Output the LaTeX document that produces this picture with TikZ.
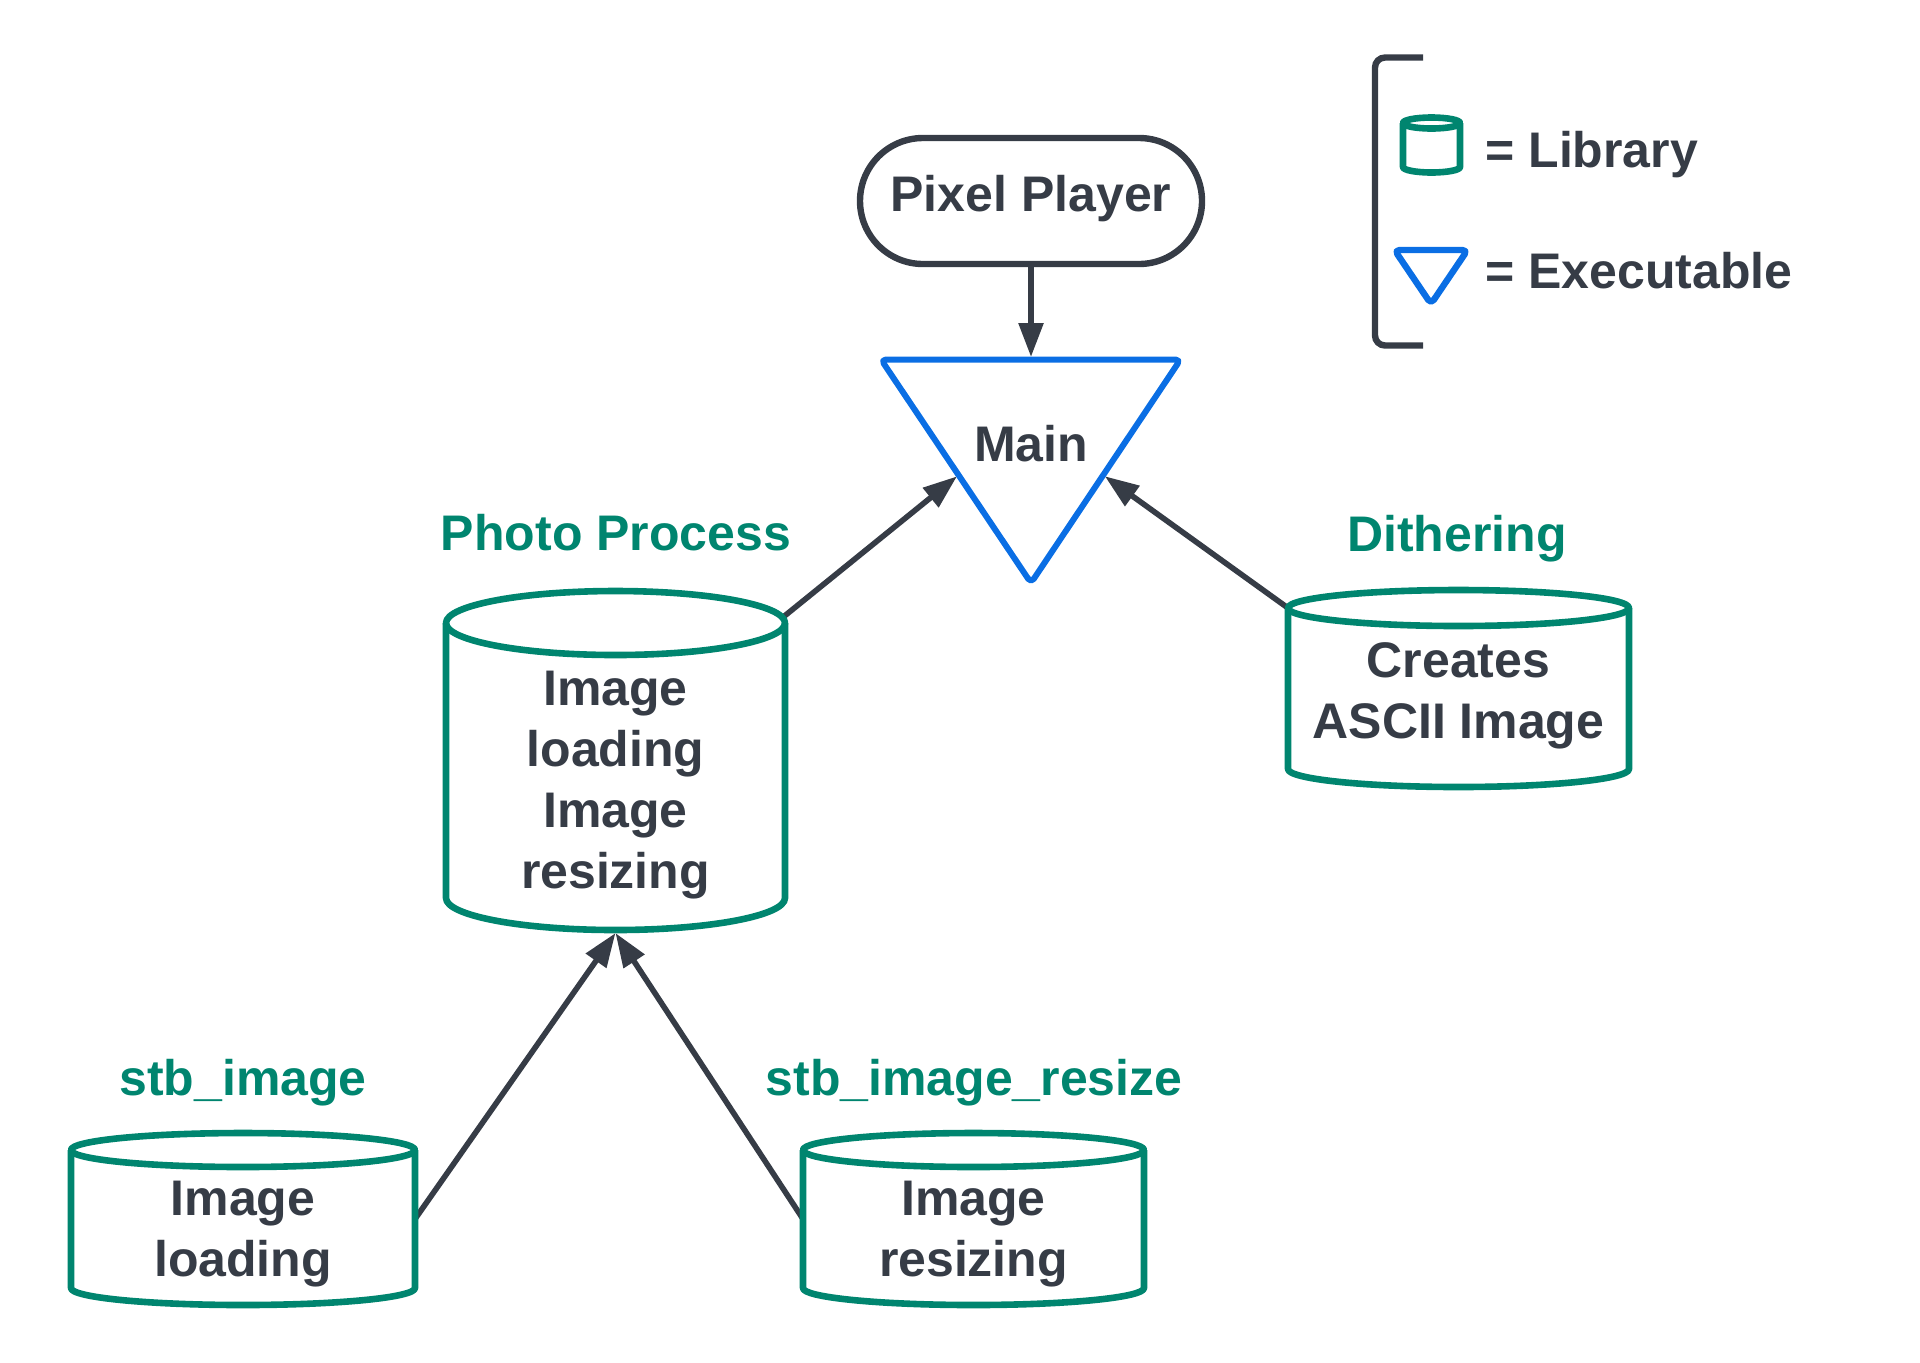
\documentclass[tikz,border=0pt]{standalone}
\usepackage{fontspec}
\setmainfont{Liberation Sans}
\usetikzlibrary{arrows.meta,calc}
\definecolor{ink}{RGB}{54,60,70}
\definecolor{libgreen}{RGB}{0,133,111}
\definecolor{exeblue}{RGB}{10,110,228}
\tikzset{
  txt/.style={font=\fontsize{25pt}{30.5pt}\selectfont\bfseries, text=ink, inner sep=0pt},
  lbl/.style={txt, text=libgreen},
  body/.style 2 args={rectangle, inner sep=0pt, outer sep=0pt, minimum width=#1, minimum height=#2},
  libline/.style={draw=libgreen, line width=3.3pt, line join=round},
  conn/.style={draw=ink, line width=2.8pt, -{Triangle[length=17pt,width=12pt]}},
  exe/.style={draw=exeblue, line width=3pt, rounded corners=2.5pt, line join=round},
  bracketline/.style={draw=ink, line width=3.2pt, rounded corners=5pt}
}
\newcommand\libcyl[3]{%
  \draw[libline] (#1.north west) -- (#1.south west)
     arc[start angle=180, end angle=360, x radius=#2, y radius=#3] -- (#1.north east);
  \draw[libline] (#1.north) ellipse[x radius=#2, y radius=#3];
}
\begin{document}
\begin{tikzpicture}[x=0.5pt,y=0.5pt]
\useasboundingbox (0,0) rectangle (1920,-1362);

% ---------- legend ----------
\draw[bracketline] (1423,-57.5) -- (1375,-57.5) -- (1375,-345.5) -- (1423,-345.5);
\node[body={28.5pt}{22pt}] (legcyl) at (1431.5,-145) {};
\libcyl{legcyl}{14.25pt}{2.75pt}
\coordinate (lTL) at (1394.5,-250);
\coordinate (lTR) at (1467.5,-250);
\coordinate (lB) at (1431,-304);
\draw[exe, line width=3.2pt] (lTL) -- (lTR) -- (lB) -- cycle;
\node[txt, anchor=base west] (leglib) at (1485,-167) {= Library};
\node[txt, anchor=base west] (legexe) at (1485,-288) {= Executable};

% ---------- Pixel Player ----------
\node[txt, draw=ink, line width=3.2pt, rounded corners=31.5pt,
      minimum width=171pt, minimum height=63pt,
      text height=18pt, text depth=8pt] (pixel) at (1031,-201) {Pixel Player};

% ---------- Main ----------
\coordinate (mTL) at (881,-359.5);
\coordinate (mTR) at (1180.5,-359.5);
\coordinate (mB) at (1031,-583);
\coordinate (mtop) at (1031,-357);
\coordinate (mleft) at ($(mTL)!0.517!(mB)$);
\coordinate (mright) at ($(mTR)!0.517!(mB)$);
\node[txt, anchor=base] (maintext) at (1031,-461) {Main};

% ---------- libraries ----------
\node[body={169.5pt}{137.5pt}] (pp) at (615.5,-760.5) {};
\node[lbl, anchor=base] (pplabel) at (616,-550) {Photo Process};
\node[txt, anchor=base] (pptext) at (615.5,-705)
  {\begin{tabular}[t]{@{}c@{}}Image\\loading\\Image\\resizing\end{tabular}};
\coordinate (ppbot) at ($(pp.south)+(0,-35)$);
\coordinate (ppout) at ($(pp.north east)+(-3,5)$);

\node[body={170.5pt}{80.5pt}] (dith) at (1458.5,-688.5) {};
\node[lbl, anchor=base] (dithlabel) at (1457,-551) {Dithering};
\node[txt, anchor=base] (dithtext) at (1458.5,-677)
  {\begin{tabular}[t]{@{}c@{}}Creates\\ASCII Image\end{tabular}};

\node[body={172pt}{69pt}] (stbi) at (243,-1219) {};
\node[lbl, anchor=base] (stbilabel) at (243,-1095) {stb\_image};
\node[txt, anchor=base] (stbitext) at (243,-1215)
  {\begin{tabular}[t]{@{}c@{}}Image\\loading\end{tabular}};

\node[body={170.5pt}{69pt}] (stbr) at (973.5,-1219) {};
\node[lbl, anchor=base] (stbrlabel) at (974,-1095) {stb\_image\_resize};
\node[txt, anchor=base] (stbrtext) at (973.5,-1215)
  {\begin{tabular}[t]{@{}c@{}}Image\\resizing\end{tabular}};

% ---------- connectors ----------
\draw[conn] (pixel.south) -- (mtop);
\draw[conn, shorten >=1pt] (ppout) -- (mleft);
\draw[conn, shorten >=1pt] (dith.north west) -- (mright);
\draw[conn] (stbi.east) -- (ppbot);
\draw[conn] (stbr.west) -- (ppbot);

% ---------- shapes on top ----------
\draw[exe] (mTL) -- (mTR) -- (mB) -- cycle;
\libcyl{pp}{84.75pt}{16pt}
\libcyl{dith}{85.25pt}{9pt}
\libcyl{stbi}{86pt}{8.5pt}
\libcyl{stbr}{85.25pt}{8.5pt}
\end{tikzpicture}
\end{document}
